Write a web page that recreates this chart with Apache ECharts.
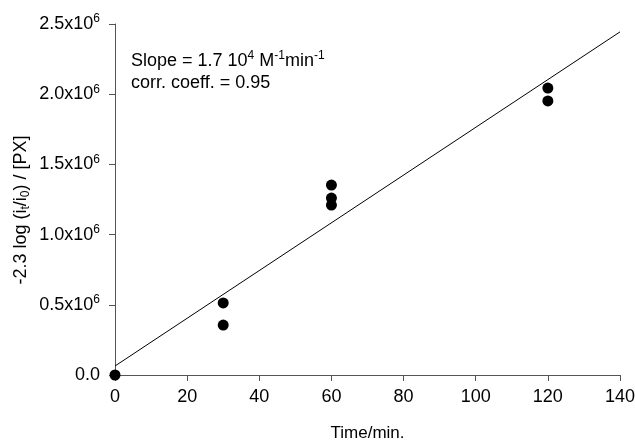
<!DOCTYPE html>
<html>
<head>
<meta charset="utf-8">
<script src="https://cdn.jsdelivr.net/npm/echarts@6/dist/echarts.min.js"></script>
<style>
  html, body { margin: 0; padding: 0; background: #fff; }
  #chart { width: 635px; height: 442px; }
</style>
</head>
<body>
<div id="chart"></div>
<script>
var xTicks = [0, 20, 40, 60, 80, 100, 120, 140]
var yTicks = ['0.0', '0.5', '1.0', '1.5', '2.0', '2.5']
var times = [0, 30, 30, 60, 60, 60, 120, 120]
var values = [0, 513000, 356000, 1353000, 1260000, 1210000, 2044000, 1952000]
var fitX = [0, 140]
var fitY = [64000, 2444000]

var font = 'Liberation Sans, Arial, sans-serif'

var points = times.map(function (t, i) { return [t, values[i]] })
var fitLine = fitX.map(function (t, i) { return [t, fitY[i]] })

var supStyle = { fontSize: 12, fill: '#000', color: '#000', fontFamily: font, verticalAlign: 'top', lineHeight: 12, padding: [0, 0, 6, 0] }
var subStyle = { fontSize: 12, fill: '#000', color: '#000', fontFamily: font, verticalAlign: 'bottom', lineHeight: 12, padding: [6, 0, 0, 0] }
var mainStyle = { fontSize: 18, fill: '#000', color: '#000', fontFamily: font, lineHeight: 22 }

var chart = echarts.init(document.getElementById('chart'))
var option = {
    backgroundColor: '#fff',
    animation: false,
    textStyle: { fontFamily: font },
    grid: {
        left: 115,
        right: 15,
        top: 24,
        bottom: 67,
        outerBoundsMode: 'none'
    },
    xAxis: {
        type: 'value',
        min: 0,
        max: 140,
        interval: 20,
        name: 'Time/min.',
        nameLocation: 'middle',
        nameGap: 50,
        nameTextStyle: { fontSize: 17, color: '#000', fontFamily: font },
        axisLine: { lineStyle: { color: '#555', width: 1 } },
        axisTick: { inside: false, length: 6, lineStyle: { color: '#555' } },
        axisLabel: {
            fontSize: 18,
            color: '#000',
            margin: 13,
            fontFamily: font,
            formatter: function (v) { return xTicks.indexOf(v) >= 0 ? String(v) : '' }
        },
        splitLine: { show: false }
    },
    yAxis: {
        type: 'value',
        min: 0,
        max: 2500000,
        interval: 500000,
        axisLine: { show: true, lineStyle: { color: '#555', width: 1 } },
        axisTick: { show: true, inside: false, length: 6, lineStyle: { color: '#555' } },
        axisLabel: {
            margin: 15,
            fontFamily: font,
            formatter: function (v) {
                var s = yTicks[Math.round(v / 500000)]
                if (v === 0) return '{n|' + s + '}'
                return '{n|' + s + 'x10}{sup|6}'
            },
            rich: { n: mainStyle, sup: supStyle }
        },
        splitLine: { show: false }
    },
    graphic: [
        {
            // y axis title, sits a bit below the axis middle as in the source
            type: 'text',
            x: 21,
            y: 210,
            rotation: Math.PI / 2,
            style: {
                text: '{n|-2.3 log (i}{sub|t}{n|/i}{sub|0}{n|) / [PX]}',
                align: 'center',
                verticalAlign: 'middle',
                rich: { n: mainStyle, sub: subStyle }
            }
        },
        {
            type: 'text',
            left: 131,
            top: 50,
            style: {
                text: '{n|Slope = 1.7 10}{sup|4}{n| M}{sup|-1}{n|min}{sup|-1}',
                rich: { n: mainStyle, sup: supStyle }
            }
        },
        {
            type: 'text',
            left: 131,
            top: 74,
            style: {
                text: 'corr. coeff. = 0.95',
                font: '18px ' + font,
                fill: '#000'
            }
        }
    ],
    series: [
        {
            name: 'fit',
            type: 'line',
            data: fitLine,
            symbol: 'none',
            lineStyle: { color: '#000', width: 1 },
            silent: true
        },
        {
            name: 'data',
            type: 'scatter',
            data: points,
            symbol: 'circle',
            symbolSize: 11,
            clip: false,
            itemStyle: { color: '#000', opacity: 1 },
            z: 3
        }
    ]
}
chart.setOption(option)
</script>
</body>
</html>
